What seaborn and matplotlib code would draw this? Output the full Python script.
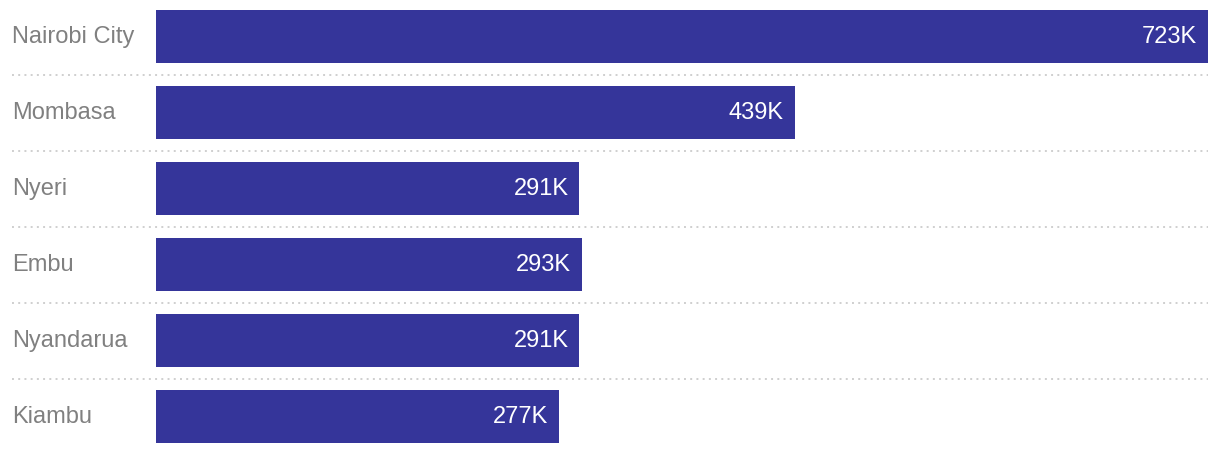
# Horizontal bar chart of counties
import pandas as pd
import matplotlib
matplotlib.use("Agg")
import matplotlib.pyplot as plt
import seaborn as sns

counties = ["Nairobi City", "Mombasa", "Nyeri", "Embu", "Nyandarua", "Kiambu"]
values = [723, 439, 291, 293, 291, 277]  # thousands

df = pd.DataFrame({"County": counties, "Value": values})

sns.set_style("white")
plt.rcParams['font.family'] = ['Liberation Sans', 'DejaVu Sans']

fig = plt.figure(figsize=(12.2, 4.54), dpi=100)
ax = fig.add_axes([156 / 1220, 0, (1208 - 156) / 1220, 1])

sns.barplot(data=df, x="Value", y="County", order=counties, color="#35359a",
            width=0.70, saturation=1, linewidth=0, ax=ax)

ax.set_xlim(0, max(values))
ax.set_ylim(5.49, -0.48)

# separators between rows
for i in range(len(counties) - 1):
    ax.axhline(i + 0.5, xmin=(12 - 156) / 1052, xmax=1.0, color="#cfcfcf",
               linewidth=1.4, linestyle=(0, (1, 2.2)), clip_on=False)

# value labels inside the bar end
for i, v in enumerate(values):
    ax.annotate(f"{v}K", xy=(v, i), xytext=(-11, 0), textcoords="offset pixels",
                ha="right", va="center", color="white", fontsize=17)

# county labels on the left
for i, c in enumerate(counties):
    ax.annotate(c, xy=(12 / 1220, i), xycoords=("figure fraction", "data"),
                ha="left", va="center", color="#808080", fontsize=17)

ax.set_xlabel("")
ax.set_ylabel("")
ax.set_xticks([])
ax.set_yticks([])
sns.despine(ax=ax, left=True, bottom=True)

fig.savefig("out.png", dpi=100)
